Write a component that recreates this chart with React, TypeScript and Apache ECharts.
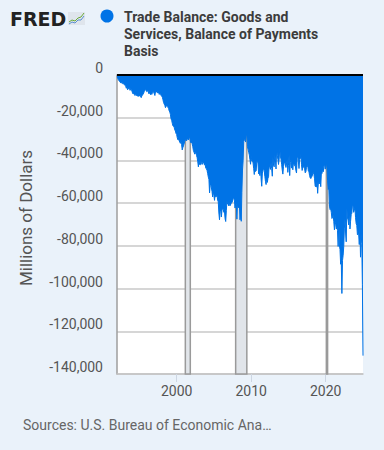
import React, { useEffect, useRef } from "react";
import * as echarts from "echarts";

const startYear = 1992;

const balance1990s = [
  -900, -1300, -2100, -2600, -2900, -3400, -3300, -3800, -3400, -4000, -4300, -3900,
  -4600, -4800, -5300, -6200, -5400, -6900, -6500, -6300, -5900, -7200, -6400, -6600,
  -7500, -8400, -8900, -8600, -9200, -9600, -9300, -8900, -9800, -9400, -10100, -9200,
  -9900, -9300, -10200, -10600, -9700, -9500, -8900, -8400, -7600, -7000, -6800, -7400,
  -7800, -7600, -7300, -8700, -8300, -8200, -9200, -8800, -9100, -8300, -7700, -8200,
  -8800, -9600, -7700, -8100, -7500, -7600, -8500, -8000, -9100, -8400, -9000, -9600,
  -10000, -10400, -11600, -12900, -13600, -14200, -15300, -14800, -14500, -13900, -15200, -15600,
  -16800, -17300, -18500, -20500, -21200, -22600, -23800, -24000, -24500, -25700, -26200, -27400,
];

const balance2000s = [
  -27800, -29400, -30300, -29900, -30800, -31400, -32000, -31100, -32600, -35100, -34000, -33200,
  -33100, -31200, -30600, -30000, -30800, -30200, -29500, -30400, -29700, -28600, -30900, -31800,
  -31500, -32200, -33600, -35400, -36100, -37000, -36800, -36300, -37600, -38700, -40600, -43000,
  -40200, -41900, -42100, -40300, -41100, -41900, -41000, -40600, -41500, -42200, -41800, -43700,
  -43900, -44700, -46200, -47800, -48900, -55200, -51800, -51000, -52900, -54600, -57100, -54400,
  -56300, -58700, -55800, -57100, -56900, -56300, -58500, -59400, -64600, -67800, -63800, -63100,
  -66500, -63200, -62600, -62900, -64300, -63700, -67300, -68600, -63400, -59000, -60500, -60100,
  -61300, -59700, -61200, -61100, -60000, -59700, -59000, -57900, -57500, -58600, -62300, -60200,
  -60500, -67500, -59800, -61900, -62200, -60500, -67800, -64800, -68500, -55000, -44500, -40200,
  -31000, -30500, -30200, -31400, -28600, -27200, -33600, -34800, -36200, -37400, -39600, -41800,
];

const balance2010s = [
  -37800, -40300, -40500, -41100, -43700, -46600, -42400, -45200, -44900, -40700, -39800, -41600,
  -46300, -45400, -47100, -43400, -48700, -52100, -45900, -44800, -43300, -44800, -47500, -49800,
  -51300, -47800, -50300, -48300, -47600, -41900, -43200, -44200, -41000, -43800, -47400, -38500,
  -42200, -43000, -37300, -39800, -44000, -33900, -37700, -39500, -41900, -39400, -34000, -38500,
  -39300, -41800, -44500, -46400, -42800, -41500, -40300, -40200, -43300, -43400, -39400, -45600,
  -42300, -37400, -47100, -41000, -39700, -43600, -41100, -44400, -41200, -41800, -42500, -42300,
  -44800, -45900, -39000, -37400, -40700, -43800, -39500, -39200, -37200, -42000, -44700, -43600,
  -43700, -42600, -43900, -45800, -45300, -43300, -43000, -42300, -44900, -45300, -47000, -48200,
  -48500, -47900, -47400, -46300, -45700, -46400, -48600, -52100, -52000, -52400, -49800, -55400,
  -51000, -50400, -50900, -49700, -52300, -45600, -46100, -43800, -45300, -42700, -41600, -44100,
];

const balance2020s = [
  -43400, -40700, -43500, -49300, -53600, -52700, -61400, -63000, -62500, -64400, -67200, -66600,
  -65400, -68700, -72500, -68900, -69800, -72100, -70900, -72800, -80300, -67400, -79600, -81700,
  -88600, -87100, -102300, -86800, -84500, -80300, -71700, -67400, -74000, -78100, -62100, -67300,
  -67800, -70200, -62400, -72100, -68500, -65300, -64700, -60400, -61500, -64300, -63200, -62200,
  -66700, -69600, -70400, -74800, -74900, -74200, -79400, -71100, -85300, -74100, -78900, -98100,
  -131400,
];

const xTickYears = [2000, 2010, 2020];
const yMin = -140000;
const yMax = 0;
const yStep = 20000;

// recessions as [start, end] in fractional years (month index / 12)
const recessions: [number, number][] = [
  [2001 + 2 / 12, 2001 + 10 / 12],
  [2007 + 11 / 12, 2009 + 5 / 12],
  [2020 + 1 / 12, 2020 + 3 / 12],
];

const seriesName = "Trade Balance: Goods and\nServices, Balance of Payments\nBasis";
const yTitle = "Millions of Dollars";
const sourceText = "Sources: U.S. Bureau of Economic Ana\u2026";

const BLUE = "#0073e6";

export default function App() {
  const ref = useRef<HTMLDivElement>(null);

  useEffect(() => {
    if (!ref.current) return;
    const chart = echarts.init(ref.current, undefined, { renderer: "svg" });
    const all = [...balance1990s, ...balance2000s, ...balance2010s, ...balance2020s];
    const data = all.map((v, i) => [startYear + i / 12, v]);

    chart.setOption({
      animation: false,
      backgroundColor: "#eaf2fa",
      grid: {
        left: 117,
        right: 21,
        top: 75,
        bottom: 76,
        show: true,
        backgroundColor: "#ffffff",
        borderWidth: 0,
      },
      xAxis: {
        type: "value",
        min: startYear,
        max: 2025,
        axisLine: { show: true, onZero: false, lineStyle: { color: "#c4c4c4", width: 1.5 } },
        axisTick: {
          show: true,
          customValues: xTickYears,
          length: 8,
          lineStyle: { color: "#cdd6e2", width: 1 },
        },
        axisLabel: {
          customValues: xTickYears,
          color: "#555555",
          fontSize: 14,
          fontFamily: "Roboto",
          margin: 10,
          formatter: (v: number) => String(Math.round(v)),
        },
        splitLine: { show: false },
      },
      yAxis: {
        type: "value",
        min: yMin,
        max: yMax,
        interval: yStep,
        axisLine: { show: true, onZero: false, lineStyle: { color: "#9e9e9e", width: 1.5 } },
        axisTick: { show: false },
        axisLabel: {
          color: "#555555",
          fontSize: 14,
          fontFamily: "Roboto",
          margin: 14,
          verticalAlign: "bottom",
          formatter: (v: number) => v.toLocaleString("en-US"),
        },
        splitLine: { show: true, lineStyle: { color: "#c8c8c8", width: 1.5 } },
      },
      series: [
        {
          type: "line",
          name: "recessions",
          data: [[startYear, 0]],
          symbol: "none",
          lineStyle: { opacity: 0 },
          silent: true,
          z: 1,
          markArea: {
            silent: true,
            itemStyle: { color: "#e1e5ea", borderColor: "#9a9a9a", borderWidth: 1.5 },
            data: recessions.map(([a, b]) => [{ xAxis: a }, { xAxis: b }]),
          },
        },
        {
          type: "line",
          name: "Trade Balance",
          data,
          symbol: "none",
          showSymbol: false,
          lineStyle: { color: BLUE, width: 1 },
          areaStyle: { color: BLUE, opacity: 1, origin: "end" },
          z: 3,
          markLine: {
            silent: true,
            symbol: ["none", "none"],
            label: { show: false },
            lineStyle: { color: "#000000", width: 2, type: "solid" },
            data: [{ yAxis: 0 }],
          },
        },
      ],
      graphic: [
        {
          type: "text",
          x: 10,
          y: 18.5,
          style: {
            text: "FRED",
            font: 'bold 19px "DejaVu Sans"',
            fill: "#222222",
            textAlign: "left",
            textVerticalAlign: "middle",
          },
        },
        { type: "rect", shape: { x: 68, y: 12, width: 17, height: 13 }, style: { fill: "#dfe5ec" } },
        {
          type: "polyline",
          shape: { points: [[69, 22], [72, 20], [75, 21], [78, 18], [81, 17], [84, 13]] },
          style: { stroke: "#6aaa3a", lineWidth: 1, fill: "none" },
        },
        {
          type: "polyline",
          shape: { points: [[69, 24], [72, 22], [75, 23], [78, 20], [81, 20], [84, 16]] },
          style: { stroke: "#5a8fd0", lineWidth: 1, fill: "none" },
        },
        { type: "circle", shape: { cx: 107, cy: 16, r: 6.5 }, style: { fill: BLUE } },
        {
          type: "text",
          x: 124,
          y: 8,
          style: {
            text: seriesName,
            font: 'bold 14px Roboto',
            fill: "#3c3c3c",
            lineHeight: 17,
            textAlign: "left",
            textVerticalAlign: "top",
          },
        },
        {
          type: "text",
          x: 26,
          y: 218,
          rotation: Math.PI / 2,
          style: {
            text: yTitle,
            font: '17px Roboto',
            fill: "#555555",
            textAlign: "center",
            textVerticalAlign: "middle",
          },
        },
        {
          type: "text",
          x: 23,
          y: 425,
          style: {
            text: sourceText,
            font: '14px Roboto',
            fill: "#666666",
            textAlign: "left",
            textVerticalAlign: "middle",
          },
        },
      ],
    });

    return () => chart.dispose();
  }, []);

  return (
    <div
      ref={ref}
      style={{ position: "fixed", left: 0, top: 0, width: 384, height: 450 }}
    />
  );
}
